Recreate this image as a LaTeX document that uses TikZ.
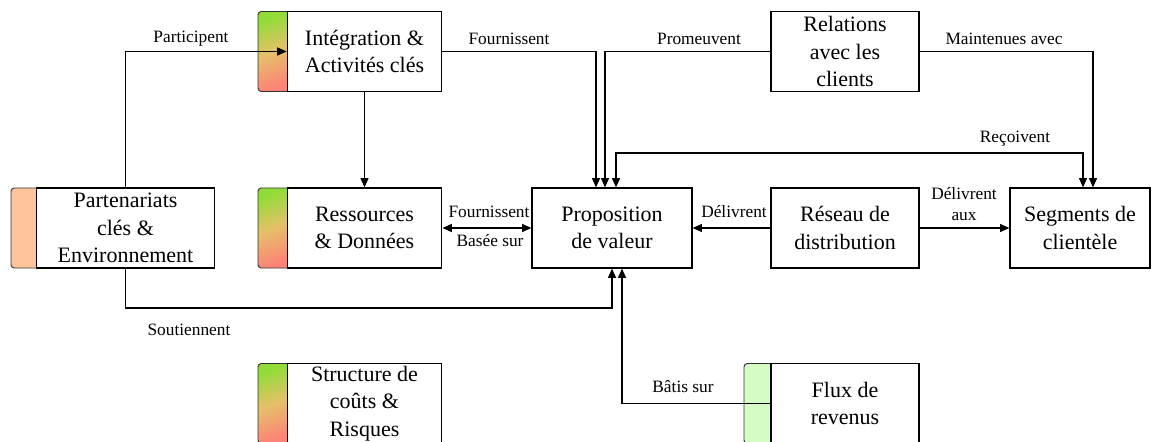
\documentclass[tikz,border=0pt]{standalone}
\usepackage{fontspec}
\setmainfont{Liberation Serif}
\newfontfamily\diagfont{Liberation Serif}
\usetikzlibrary{arrows.meta}
\definecolor{tabgreen}{RGB}{145,220,55}
\definecolor{tabmid}{RGB}{230,192,105}
\definecolor{tabred}{RGB}{252,132,118}
\definecolor{tabpeach}{RGB}{255,196,156}
\definecolor{tablight}{RGB}{213,252,196}

\begin{document}
\begin{tikzpicture}[x=0.75pt, y=-0.75pt,
  cardbox/.style={draw, fill=white, line width=0.9pt, minimum width=#1, minimum height=60pt, align=center, inner sep=1pt, font=\diagfont\fontsize{16.5pt}{20.5pt}\selectfont},
  tabbar/.style={draw=black!80, rounded corners=2.5pt, line width=0.7pt, minimum height=60pt, inner sep=0pt},
  gradtab/.style={tabbar, minimum width=24pt, top color=tabgreen, bottom color=tabred, middle color=tabmid, shading angle=20},
  lbl/.style={font=\diagfont\fontsize{13pt}{16pt}\selectfont, inner sep=1pt},
  flow/.style={line width=0.9pt, -{Triangle[length=7pt,width=6pt]}},
  biflow/.style={line width=0.9pt, {Triangle[length=7pt,width=6pt]}-{Triangle[length=7pt,width=6pt]}}]
\useasboundingbox (0,0) rectangle (1152,442);
% colour tabs
\node[tabbar, minimum width=21.75pt, fill=tabpeach] (parttab) at (25.5,228) {};
\node[gradtab] (integtab) at (274,51.5) {};
\node[gradtab] (resstab) at (274,228) {};
\node[gradtab] (structtab) at (274,403.5) {};
\node[tabbar, minimum width=22.5pt, fill=tablight] (fluxtab) at (759,403.5) {};
% blocks
\node[cardbox=133pt] (part) at (125.5,228) {Partenariats\\clés \&\\Environnement};
\node[cardbox=116pt] (integ) at (364.5,51.5) {Intégration \&\\Activités clés};
\node[cardbox=116pt] (ress) at (364.5,228) {Ressources\\\& Données};
\node[cardbox=116pt] (struct) at (364.5,403.5) {Structure de\\coûts \&\\Risques};
\node[cardbox=120pt] (prop) at (612,228) {Proposition\\de valeur};
\node[cardbox=111pt] (reseau) at (845,228) {Réseau de\\distribution};
\node[cardbox=105pt] (segm) at (1080,228) {Segments de\\clientèle};
\node[cardbox=111pt] (rel) at (845,51.5) {Relations\\avec les\\clients};
\node[cardbox=111pt] (flux) at (845,403.5) {Flux de\\revenus};
% links
\coordinate (rcv) at (1083,153);
\coordinate (sout) at (125.5,308);
\draw[flow] (part.north) |- (integ.west);
\draw[flow] (integ.east) -| ([xshift=-12pt]prop.north);
\draw[flow] (rel.west) -| ([xshift=-5.25pt]prop.north);
\draw[flow] (rel.east) -| ([xshift=9.75pt]segm.north);
\draw[biflow] ([xshift=2.25pt]segm.north) -- (rcv) -| ([xshift=3pt]prop.north);
\draw[flow] (integ.south) -- (ress.north);
\draw[biflow] (ress.east) -- (prop.west);
\draw[flow] (reseau.west) -- (prop.east);
\draw[flow] (reseau.east) -- (segm.west);
\draw[flow] (part.south) -- (sout) -| (prop.south);
\draw[flow] (flux.west) -| ([xshift=7.5pt]prop.south);
% labels
\node[lbl] (lpart) at (191,39) {Participent};
\node[lbl] (lfour1) at (509,39) {Fournissent};
\node[lbl] (lprom) at (699,39) {Promeuvent};
\node[lbl] (lmaint) at (1004,39) {Maintenues avec};
\node[lbl] (lrecv) at (1015,139) {Reçoivent};
\node[lbl] (lfour2) at (489,212) {Fournissent};
\node[lbl] (lbase) at (490,241) {Basée sur};
\node[lbl] (ldeliv) at (734,212) {Délivrent};
\node[lbl, align=center] (ldelaux) at (964,204) {Délivrent\\aux};
\node[lbl] (lsout) at (189,330) {Soutiennent};
\node[lbl] (lbatis) at (683,387) {Bâtis sur};
\end{tikzpicture}
\end{document}
